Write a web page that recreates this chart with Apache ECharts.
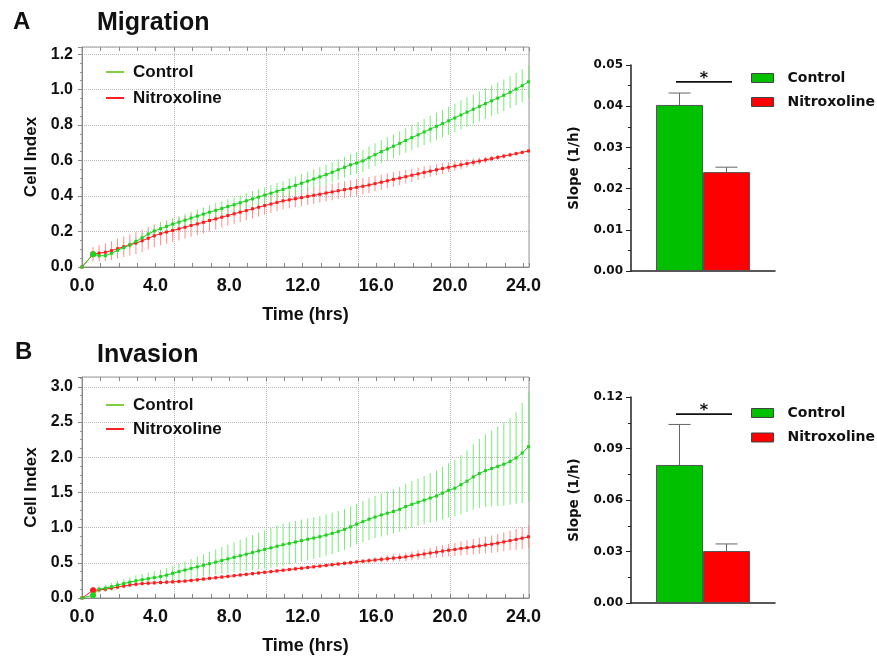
<!DOCTYPE html>
<html><head><meta charset="utf-8">
<script src="https://cdn.jsdelivr.net/npm/echarts@6/dist/echarts.min.js"></script>
<style>html,body{margin:0;padding:0;background:#fff}#c{width:877px;height:656px}</style>
</head><body><div id="c"></div>
<script>
// ---------- DATA ----------
const times = [0,0.6,0.93,1.27,1.6,1.93,2.27,2.6,2.93,3.27,3.6,3.93,4.27,4.6,4.93,5.27,5.6,5.93,6.27,6.6,6.93,7.27,7.6,7.93,8.27,8.6,8.93,9.27,9.6,9.93,10.27,10.6,10.93,11.27,11.6,11.93,12.27,12.6,12.93,13.27,13.6,13.93,14.27,14.6,14.93,15.27,15.6,15.93,16.27,16.6,16.93,17.27,17.6,17.93,18.27,18.6,18.93,19.27,19.6,19.93,20.27,20.6,20.93,21.27,21.6,21.93,22.27,22.6,22.93,23.27,23.6,23.93,24.27];

// Migration (A)
const migControl = [0,0.072,0.063,0.064,0.077,0.094,0.109,0.125,0.144,0.165,
0.186,0.203,0.216,0.229,0.242,0.253,0.264,0.276,0.287,0.298,
0.309,0.319,0.330,0.341,0.351,0.362,0.373,0.384,0.394,0.405,
0.416,0.427,0.437,0.449,0.460,0.472,0.484,0.496,0.508,0.521,
0.534,0.548,0.562,0.576,0.586,0.598,0.616,0.633,0.650,0.665,
0.681,0.697,0.713,0.729,0.745,0.761,0.777,0.793,0.808,0.824,
0.840,0.857,0.873,0.889,0.905,0.921,0.937,0.952,0.968,0.985,
1.003,1.022,1.044];
const migControlErr = [0,0.010,0.010,0.012,0.015,0.018,0.020,0.022,0.024,0.026,
0.028,0.030,0.031,0.032,0.033,0.034,0.035,0.036,0.037,0.038,
0.039,0.040,0.041,0.041,0.042,0.043,0.043,0.044,0.045,0.045,
0.046,0.047,0.047,0.049,0.050,0.052,0.053,0.054,0.055,0.056,
0.057,0.058,0.059,0.060,0.061,0.062,0.063,0.064,0.065,0.066,
0.067,0.068,0.069,0.071,0.072,0.074,0.075,0.077,0.078,0.080,
0.081,0.082,0.083,0.084,0.085,0.086,0.087,0.088,0.089,0.090,
0.091,0.093,0.094];
const migNitro = [0,0.072,0.078,0.083,0.092,0.103,0.114,0.124,0.135,0.148,
0.162,0.176,0.188,0.197,0.206,0.215,0.224,0.234,0.243,0.252,
0.262,0.271,0.281,0.290,0.300,0.309,0.318,0.328,0.337,0.346,
0.355,0.364,0.373,0.379,0.385,0.391,0.398,0.404,0.410,0.417,
0.423,0.430,0.436,0.442,0.449,0.455,0.462,0.470,0.478,0.486,
0.494,0.501,0.509,0.517,0.525,0.533,0.540,0.548,0.555,0.562,
0.569,0.576,0.583,0.590,0.597,0.604,0.611,0.618,0.625,0.632,
0.639,0.646,0.654];
const migNitroErr = [0,0.040,0.045,0.050,0.053,0.056,0.058,0.060,0.062,0.063,
0.064,0.064,0.065,0.065,0.065,0.065,0.064,0.064,0.063,0.062,
0.061,0.060,0.059,0.058,0.057,0.056,0.055,0.054,0.053,0.052,
0.051,0.050,0.049,0.048,0.048,0.048,0.048,0.048,0.047,0.047,
0.047,0.047,0.047,0.047,0.047,0.046,0.045,0.044,0.043,0.042,
0.041,0.040,0.038,0.037,0.035,0.034,0.032,0.031,0.030,0.028,
0.026,0.025,0.023,0.022,0.020,0.018,0.017,0.015,0.014,0.013,
0.012,0.011,0.010];

// Invasion (B)
const invControl = [0,0.040,0.125,0.140,0.160,0.185,0.205,0.225,0.245,0.260,
0.275,0.290,0.305,0.325,0.350,0.375,0.397,0.420,0.443,0.465,
0.488,0.510,0.533,0.556,0.578,0.600,0.622,0.645,0.668,0.690,
0.712,0.735,0.757,0.776,0.795,0.815,0.834,0.852,0.871,0.895,
0.918,0.943,0.975,1.010,1.050,1.085,1.120,1.150,1.180,1.205,
1.230,1.260,1.300,1.330,1.360,1.390,1.420,1.450,1.490,1.530,
1.560,1.610,1.660,1.720,1.770,1.810,1.840,1.870,1.900,1.940,
1.990,2.060,2.150];
const invControlErr = [0,0.020,0.040,0.050,0.055,0.060,0.065,0.070,0.075,0.080,
0.085,0.090,0.095,0.100,0.105,0.110,0.122,0.133,0.145,0.156,
0.168,0.180,0.191,0.203,0.214,0.226,0.237,0.249,0.260,0.272,
0.283,0.295,0.300,0.300,0.300,0.299,0.298,0.297,0.296,0.295,
0.294,0.293,0.292,0.291,0.290,0.292,0.296,0.300,0.305,0.310,
0.315,0.320,0.326,0.332,0.338,0.344,0.352,0.362,0.372,0.385,
0.400,0.420,0.440,0.465,0.490,0.515,0.540,0.565,0.590,0.615,
0.650,0.710,0.780];
const invNitro = [0,0.110,0.115,0.125,0.140,0.155,0.170,0.185,0.195,0.205,
0.210,0.215,0.220,0.225,0.230,0.235,0.240,0.250,0.259,0.269,
0.279,0.288,0.298,0.307,0.317,0.327,0.336,0.346,0.356,0.365,
0.375,0.385,0.394,0.404,0.414,0.423,0.433,0.443,0.453,0.463,
0.473,0.483,0.493,0.503,0.513,0.522,0.531,0.540,0.549,0.558,
0.567,0.576,0.585,0.598,0.612,0.625,0.639,0.652,0.666,0.679,
0.690,0.703,0.715,0.728,0.740,0.753,0.765,0.780,0.797,0.815,
0.832,0.850,0.870];
const invNitroErr = [0,0.050,0.040,0.035,0.032,0.030,0.030,0.030,0.030,0.030,
0.030,0.030,0.030,0.030,0.030,0.030,0.030,0.030,0.030,0.030,
0.028,0.028,0.028,0.028,0.028,0.028,0.028,0.028,0.028,0.028,
0.028,0.028,0.028,0.028,0.028,0.028,0.028,0.028,0.028,0.028,
0.028,0.028,0.029,0.030,0.031,0.033,0.036,0.040,0.044,0.048,
0.052,0.056,0.060,0.064,0.068,0.072,0.076,0.080,0.085,0.090,
0.095,0.100,0.105,0.110,0.115,0.120,0.125,0.130,0.135,0.140,
0.148,0.155,0.160];

// Slopes (bar charts)
const groups = ['Control', 'Nitroxoline'];
const barCategory = ['Slope'];
const migSlope = [0.0403, 0.0240];
const migSlopeErr = [0.0029, 0.0012];
const migSignif = 0.0459;
const invSlope = [0.0804, 0.0303];
const invSlopeErr = [0.0236, 0.0041];
const invSignif = 0.110;

// Axis settings
const lineXMax = 24.3, lineXLabelStep = 4, lineXGridStep = 5, lineXMinorStep = 1;
const migYMax = 1.24, migYStep = 0.2;
const invYMax = 3.14, invYStep = 0.5;
const migBarMax = 0.05, migBarStep = 0.01;
const invBarMax = 0.12, invBarStep = 0.03;

// ---------- STYLE ----------
const FONT = '"Liberation Sans", Arial, sans-serif';
const BFONT = '"DejaVu Sans", sans-serif';
const GREEN = '#1ed21e', RED = '#ff1c1c';
const GREEN_ERR = '#78ec78', RED_ERR = '#ff8c8c';
const BAR_GREEN = '#00c000', BAR_RED = '#ff0000';
const BAR_W = 47;
const TXT = '#111';

function isMult(v, step) { const r = v / step; return Math.abs(r - Math.round(r)) < 1e-6; }

function minorTickAxis(gi, pos) {
  return {gridIndex: gi, type: 'value', position: pos, min: 0, max: lineXMax, interval: lineXMinorStep,
    axisLine: {show: false}, axisTick: {show: true, inside: true, length: 4, lineStyle: {color: '#888'}},
    axisLabel: {show: false}, splitLine: {show: false}};
}
function lineXAxes(gi) {
  return [
    {gridIndex: gi, type: 'value', position: 'bottom', min: 0, max: lineXMax, interval: lineXLabelStep,
     axisLine: {show: true, lineStyle: {color: '#888'}}, axisTick: {show: false}, splitLine: {show: false},
     axisLabel: {formatter: v => isMult(v, lineXLabelStep) ? v.toFixed(1) : '', fontFamily: FONT, fontWeight: 'bold', fontSize: 18, color: TXT, margin: 10},
     name: 'Time (hrs)', nameLocation: 'middle', nameGap: 39,
     nameTextStyle: {fontFamily: FONT, fontWeight: 'bold', fontSize: 18, color: TXT}},
    minorTickAxis(gi, 'bottom'),
    minorTickAxis(gi, 'top'),
    {gridIndex: gi, type: 'value', position: 'top', min: 0, max: lineXMax, interval: lineXGridStep,
     axisLine: {show: false}, axisTick: {show: false}, axisLabel: {show: false},
     splitLine: {show: true, lineStyle: {type: 'dotted', color: '#b8b8b8'}}}
  ];
}
function lineYAxis(gi, max, step) {
  return {gridIndex: gi, type: 'value', min: 0, max: max, interval: step,
    axisLine: {show: true, lineStyle: {color: '#888'}},
    axisTick: {show: true, length: 4, lineStyle: {color: '#888'}},
    minorTick: {show: true, splitNumber: 4, length: 2, lineStyle: {color: '#999'}},
    splitLine: {show: true, lineStyle: {type: 'dotted', color: '#b8b8b8'}},
    axisLabel: {formatter: v => isMult(v, step) ? v.toFixed(1) : '', fontFamily: FONT, fontWeight: 'bold', fontSize: 16, color: TXT, margin: 9},
    name: 'Cell Index', nameLocation: 'middle', nameGap: 41,
    nameTextStyle: {fontFamily: FONT, fontWeight: 'bold', fontSize: 17, color: TXT}};
}
function barXAxis(gi) {
  return {gridIndex: gi, type: 'category', data: barCategory,
    axisLine: {show: true, lineStyle: {color: '#222', width: 1.5}}, axisTick: {show: false}, axisLabel: {show: false}};
}
function barYAxis(gi, max, step) {
  return {gridIndex: gi, type: 'value', min: 0, max: max, interval: step,
    axisLine: {show: true, lineStyle: {color: '#222', width: 1.5}},
    axisTick: {show: true, length: 5, lineStyle: {color: '#222'}},
    minorTick: {show: true, splitNumber: 2, length: 3, lineStyle: {color: '#222'}},
    splitLine: {show: false},
    axisLabel: {formatter: v => v.toFixed(2), fontFamily: BFONT, fontWeight: 'bold', fontSize: 12, color: TXT, margin: 8},
    name: 'Slope (1/h)', nameLocation: 'middle', nameGap: 50,
    nameTextStyle: {fontFamily: BFONT, fontWeight: 'bold', fontSize: 13.5, color: TXT}};
}

function errSeries(name, vals, errs, color, xi, yi) {
  return {type: 'custom', name: name, xAxisIndex: xi, yAxisIndex: yi, silent: true,
    data: times.map((t, i) => [t, vals[i] - errs[i], vals[i] + errs[i]]),
    encode: {x: 0, y: [1, 2]},
    renderItem: (params, api) => {
      const a = api.coord([api.value(0), api.value(1)]);
      const b = api.coord([api.value(0), api.value(2)]);
      return {type: 'line', shape: {x1: a[0], y1: a[1], x2: b[0], y2: b[1]}, style: {stroke: color, lineWidth: 1}};
    }};
}
function lineSeries(name, vals, color, xi, yi) {
  return {type: 'line', name: name, xAxisIndex: xi, yAxisIndex: yi,
    data: times.map((t, i) => [t, vals[i]]),
    color: color, lineStyle: {width: 1, color: color}, itemStyle: {color: color},
    symbol: (v, p) => p.dataIndex === 1 ? 'circle' : 'rect',
    symbolSize: (v, p) => p.dataIndex === 1 ? 6 : 3, showSymbol: true};
}
function barSeries(name, val, color, xi, yi) {
  return {type: 'bar', name: name, xAxisIndex: xi, yAxisIndex: yi, data: [val],
    barWidth: BAR_W, barGap: '0%', itemStyle: {color: color, borderColor: '#555', borderWidth: 1}};
}
function barErrSeries(vals, errs, xi, yi) {
  return {type: 'custom', xAxisIndex: xi, yAxisIndex: yi, silent: true, z: 3,
    data: vals.map((v, i) => [0, v, v + errs[i], i]),
    encode: {x: 0, y: [1, 2]},
    renderItem: (params, api) => {
      const i = api.value(3);
      const off = (i === 0 ? -1 : 1) * BAR_W / 2;
      const a = api.coord([0, api.value(1)]);
      const b = api.coord([0, api.value(2)]);
      const x = a[0] + off;
      return {type: 'group', children: [
        {type: 'line', shape: {x1: x, y1: a[1], x2: x, y2: b[1]}, style: {stroke: '#666', lineWidth: 1}},
        {type: 'line', shape: {x1: x - 11, y1: b[1], x2: x + 11, y2: b[1]}, style: {stroke: '#666', lineWidth: 1}}
      ]};
    }};
}
function signifSeries(val, xi, yi) {
  return {type: 'custom', xAxisIndex: xi, yAxisIndex: yi, silent: true, z: 3,
    data: [[0, val]], encode: {x: 0, y: 1},
    renderItem: (params, api) => {
      const c = api.coord([0, api.value(1)]);
      return {type: 'group', children: [
        {type: 'line', shape: {x1: c[0] - 27, y1: c[1], x2: c[0] + 29, y2: c[1]}, style: {stroke: '#111', lineWidth: 1.6}},
        {type: 'text', x: c[0] + 1, y: c[1] - 3, style: {text: '*', font: 'bold 16px "DejaVu Sans"', fill: '#111', align: 'center', verticalAlign: 'middle', textAlign: 'center', textVerticalAlign: 'middle'}}
      ]};
    }};
}
function lineLegend(top, gap) {
  return {orient: 'vertical', left: 106, top: top, padding: 0, icon: 'rect', itemWidth: 18, itemHeight: 2, itemGap: gap,
    selectedMode: false,
    textStyle: {fontFamily: FONT, fontWeight: 'bold', fontSize: 17, color: TXT, lineHeight: 20, padding: [0, 0, 0, 4]},
    data: [{name: groups[0], itemStyle: {color: '#7fd040'}}, {name: groups[1], itemStyle: {color: '#ff2020'}}]};
}
function barLegend(top, gap) {
  return {orient: 'vertical', left: 751, top: top, padding: 0, icon: 'rect', itemWidth: 22, itemHeight: 9, itemGap: gap,
    selectedMode: false,
    textStyle: {fontFamily: BFONT, fontWeight: 'bold', fontSize: 14, color: TXT, lineHeight: 16, padding: [0, 0, 0, 9]},
    data: [{name: groups[0], itemStyle: {color: BAR_GREEN, borderColor: '#444', borderWidth: 1}},
           {name: groups[1], itemStyle: {color: BAR_RED, borderColor: '#444', borderWidth: 1}}]};
}
const titleStyle = (size) => ({fontFamily: FONT, fontWeight: 'bold', fontSize: size, color: TXT});

const chart = echarts.init(document.getElementById('c'), null, {renderer: 'canvas', width: 877, height: 656});
chart.setOption({
  animation: false,
  backgroundColor: '#fff',
  title: [
    {text: 'A', left: 13, top: 10, padding: 0, textStyle: titleStyle(24)},
    {text: 'Migration', left: 97, top: 11, padding: 0, textStyle: titleStyle(25)},
    {text: 'B', left: 15, top: 340, padding: 0, textStyle: titleStyle(24)},
    {text: 'Invasion', left: 97, top: 343, padding: 0, textStyle: titleStyle(25)}
  ],
  legend: [lineLegend(62, 6), barLegend(70, 8), lineLegend(395, 4), barLegend(405, 8.5)],
  grid: [
    {left: 82, top: 47, width: 447, height: 220, show: true, borderColor: '#9a9a9a', borderWidth: 1, backgroundColor: 'transparent'},
    {left: 631, top: 65, width: 144, height: 206},
    {left: 82, top: 377, width: 447, height: 223, show: true, borderColor: '#9a9a9a', borderWidth: 1, backgroundColor: 'transparent'},
    {left: 631, top: 397, width: 144, height: 206}
  ],
  // x axes: 0-3 grid0, 4 grid1, 5-8 grid2, 9 grid3
  xAxis: [...lineXAxes(0), barXAxis(1), ...lineXAxes(2), barXAxis(3)],
  yAxis: [lineYAxis(0, migYMax, migYStep), barYAxis(1, migBarMax, migBarStep), lineYAxis(2, invYMax, invYStep), barYAxis(3, invBarMax, invBarStep)],
  series: [
    errSeries(groups[1], migNitro, migNitroErr, RED_ERR, 0, 0),
    errSeries(groups[0], migControl, migControlErr, GREEN_ERR, 0, 0),
    lineSeries(groups[1], migNitro, RED, 0, 0),
    lineSeries(groups[0], migControl, GREEN, 0, 0),
    barSeries(groups[0], migSlope[0], BAR_GREEN, 4, 1),
    barSeries(groups[1], migSlope[1], BAR_RED, 4, 1),
    barErrSeries(migSlope, migSlopeErr, 4, 1),
    signifSeries(migSignif, 4, 1),
    errSeries(groups[1], invNitro, invNitroErr, RED_ERR, 5, 2),
    errSeries(groups[0], invControl, invControlErr, GREEN_ERR, 5, 2),
    lineSeries(groups[1], invNitro, RED, 5, 2),
    lineSeries(groups[0], invControl, GREEN, 5, 2),
    barSeries(groups[0], invSlope[0], BAR_GREEN, 9, 3),
    barSeries(groups[1], invSlope[1], BAR_RED, 9, 3),
    barErrSeries(invSlope, invSlopeErr, 9, 3),
    signifSeries(invSignif, 9, 3)
  ]
});
</script>
</body></html>
